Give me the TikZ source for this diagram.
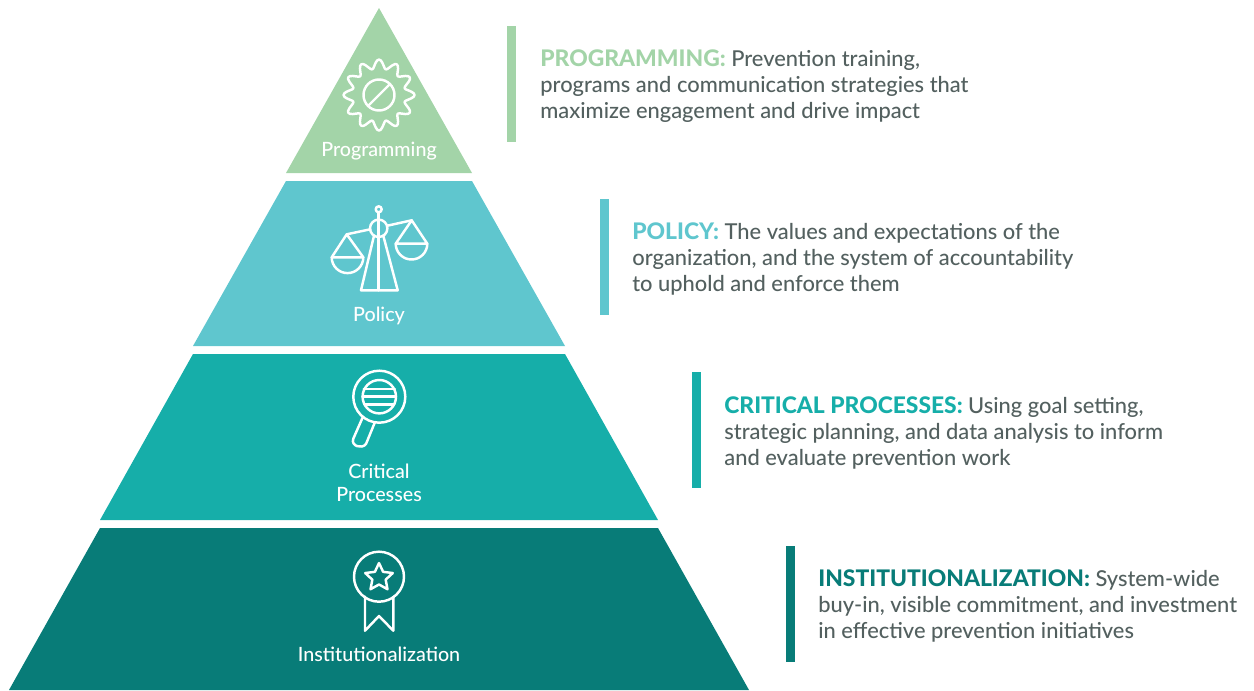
\documentclass[tikz,border=0pt]{standalone}
\usepackage{fontspec}
\setmainfont{Lato Medium}[BoldFont={Lato Heavy}]
\usepackage{tikz}
\definecolor{progcol}{HTML}{A3D4A8}
\definecolor{policol}{HTML}{5FC6CE}
\definecolor{critcol}{HTML}{16AEA9}
\definecolor{instcol}{HTML}{087C78}
\definecolor{bodycol}{HTML}{53605F}
\newcommand{\headtext}[2]{\textcolor{#1}{\fontsize{13}{14.74}\selectfont\textbf{#2}}}
\tikzset{
  icon/.style={draw=white,line width=1.4pt,line join=round,line cap=round},
  tier/.style={anchor=base,text=white,inner sep=0pt,font=\fontsize{11.2}{13}\selectfont},
  blurb/.style={anchor=north west,align=left,text=bodycol,inner sep=0pt,font=\fontsize{12.45}{14.74}\selectfont}
}
\begin{document}
\begin{tikzpicture}[x=0.02cm,y=-0.02cm]
 \useasboundingbox (0,0) rectangle (1254,690);
%pyramid
  \draw[fill=progcol,draw=none] (379,8) -- (472,173) -- (286,173) -- cycle;
  \draw[fill=policol,draw=none] (286,181) -- (472,181) -- (565,346) -- (193,346) -- cycle;
  \draw[fill=critcol,draw=none] (193,354) -- (565,354) -- (658,520) -- (100,520) -- cycle;
  \draw[fill=instcol,draw=none] (100,528) -- (658,528) -- (749,690) -- (9,690) -- cycle;
%gear
  \draw[icon] plot[smooth,samples=121,domain=0:360,variable=\t] ({379+(31+4.5*cos(12*\t))*cos(\t)},{95+(31+4.5*cos(12*\t))*sin(\t)}) -- cycle;
  \draw[icon] (379,95) circle[radius=15.5];
  \draw[icon] (368,106) -- (390,84);
%scales
  \draw[icon] (378.7,209.3) circle[radius=3];
  \draw[icon] (378.7,228.3) circle[radius=8.7];
  \draw[icon] (378.7,212.3) -- (378.7,290.3);
  \draw[icon] (346.7,234.3) -- (370.3,229.3);
  \draw[icon] (387.3,225.7) -- (411.7,220.3);
  \draw[icon] (331.7,257.3) -- (346.7,234.3) -- (363.3,257.3) -- cycle;
  \draw[icon] (331.7,257.3) arc[start angle=180,end angle=0,radius=15.8];
  \draw[icon] (395.7,243.7) -- (411.7,220.3) -- (427.3,243.7) -- cycle;
  \draw[icon] (395.7,243.7) arc[start angle=180,end angle=0,radius=15.8];
  \draw[icon] (374,235.7) -- (361,290.3) -- (397.7,290.3) -- (383.3,235.7);
%magnifier
  \draw[icon] (379.3,396.7) circle[radius=26];
  \draw[icon] (379.3,396.7) circle[radius=16.7];
  \draw[icon] (363.7,389) -- (394.9,389);
  \draw[icon] (362.6,396.7) -- (396,396.7);
  \draw[icon] (364.4,404.3) -- (394.2,404.3);
  \draw[icon] (362.7,417.3) -- (353.3,438.7) .. controls (350.5,446) and (362,449.5) .. (366,444) -- (375,422);
%medal
  \draw[icon] (379,576.7) circle[radius=25];
  \draw[icon] (379,563) \foreach \a in {1,...,9} {
     -- ({379+(mod(\a,2)==1 ? 7 : 14.5)*sin(36*\a)},{577.5-(mod(\a,2)==1 ? 7 : 14.5)*cos(36*\a)})
   } -- cycle;
  \draw[icon] (365,596.7) -- (365,630.7) -- (379,616) -- (393.3,630.7) -- (393.3,596.7);
%tier labels
  \node[tier] (progtier) at (379,156.5) {Programming};
  \node[tier] (politier) at (379,321) {Policy};
  \node[tier] (crittier) at (379,478) {Critical};
  \node[tier] (procetier) at (379,501) {Processes};
  \node[tier] (insttier) at (379,661) {Institutionalization};
%side bars
  \draw[fill=progcol,draw=none] (507,26) rectangle (516,142);
  \draw[fill=policol,draw=none] (600,199) rectangle (609,315);
  \draw[fill=critcol,draw=none] (692,372) rectangle (701,488);
  \draw[fill=instcol,draw=none] (786,546) rectangle (795,662);
%side texts
  \node[blurb] (progtext) at (540,49.5) {\headtext{progcol}{PROGRAMMING:} Prevention training,\\programs and communication strategies that\\maximize engagement and drive impact};
  \node[blurb] (politext) at (632,222.5) {\headtext{policol}{POLICY:} The values and expectations of the\\organization, and the system of accountability\\to uphold and enforce them};
  \node[blurb] (crittext) at (724,396.5) {\headtext{critcol}{CRITICAL PROCESSES:} Using goal setting,\\strategic planning, and data analysis to inform\\and evaluate prevention work};
  \node[blurb] (insttext) at (818,569.5) {\headtext{instcol}{INSTITUTIONALIZATION:} System-wide\\buy-in, visible commitment, and investment\\in effective prevention initiatives};
\end{tikzpicture}
\end{document}
